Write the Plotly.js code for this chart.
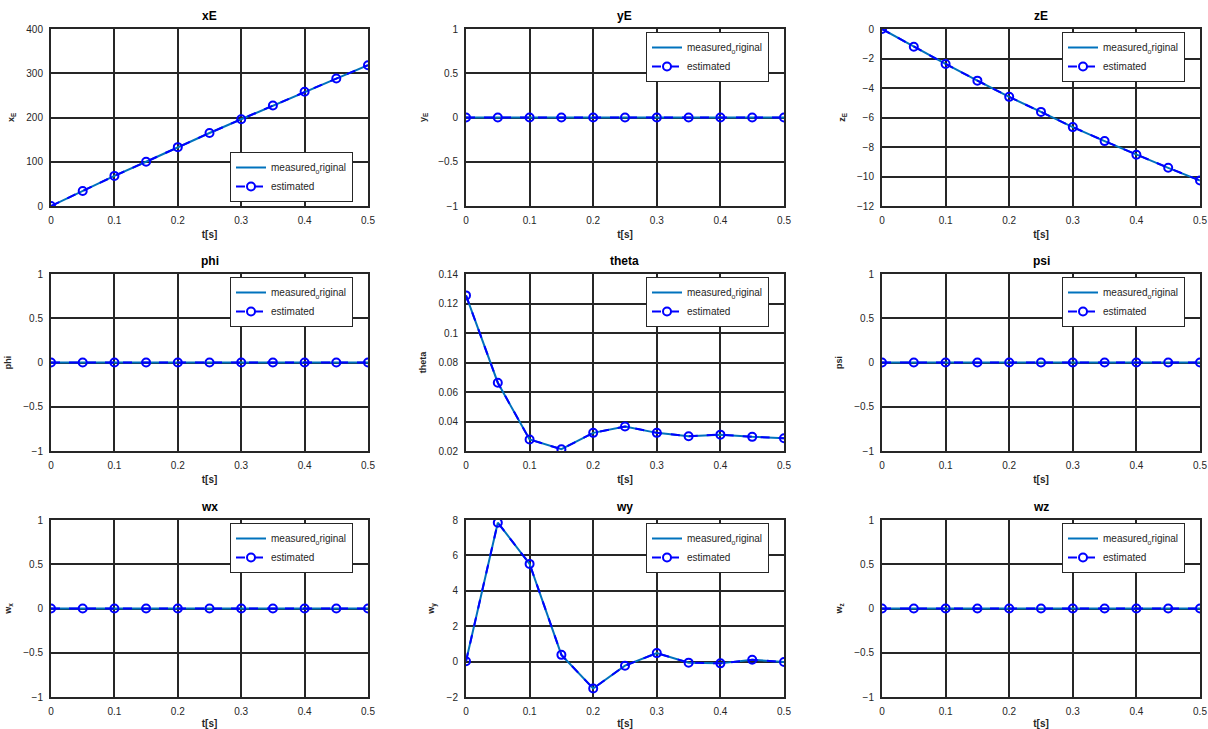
<!DOCTYPE html>
<html>
<head>
<meta charset="utf-8">
<script src="https://cdn.plot.ly/plotly-3.0.1.min.js"></script>
<style>html,body{margin:0;padding:0;background:#fff}#chart{width:1208px;height:729px}</style>
</head>
<body>
<div id="chart"></div>
<script>
// time axis (s)
const t = [0, 0.05, 0.1, 0.15, 0.2, 0.25, 0.3, 0.35, 0.4, 0.45, 0.5];

// panel names, y-axis labels
const panelTitles = ["xE", "yE", "zE", "phi", "theta", "psi", "wx", "wy", "wz"];
const yLabels = ["x<sub>E</sub>", "y<sub>E</sub>", "z<sub>E</sub>", "phi", "theta", "psi", "w<sub>x</sub>", "w<sub>y</sub>", "w<sub>z</sub>"];
const xLabel = "t[s]";
const legendNames = ["measured<sub>o</sub>riginal", "estimated"];

// measured (original) series
const xE_measured    = [0, 34, 68, 100, 133, 165, 196, 227, 258, 288, 318];
const yE_measured    = [0, 0, 0, 0, 0, 0, 0, 0, 0, 0, 0];
const zE_measured    = [0, -1.2, -2.37, -3.5, -4.6, -5.62, -6.65, -7.6, -8.53, -9.41, -10.27];
const phi_measured   = [0, 0, 0, 0, 0, 0, 0, 0, 0, 0, 0];
const theta_measured = [0.1255, 0.0663, 0.0278, 0.0212, 0.0323, 0.0366, 0.0323, 0.0300, 0.0311, 0.0296, 0.0287];
const psi_measured   = [0, 0, 0, 0, 0, 0, 0, 0, 0, 0, 0];
const wx_measured    = [0, 0, 0, 0, 0, 0, 0, 0, 0, 0, 0];
const wy_measured    = [0.02, 7.85, 5.52, 0.38, -1.52, -0.23, 0.48, -0.06, -0.1, 0.1, -0.02];
const wz_measured    = [0, 0, 0, 0, 0, 0, 0, 0, 0, 0, 0];

// estimated series
const xE_estimated    = [0, 34, 68, 100, 133, 165, 196, 227, 258, 288, 318];
const yE_estimated    = [0, 0, 0, 0, 0, 0, 0, 0, 0, 0, 0];
const zE_estimated    = [0, -1.2, -2.37, -3.5, -4.6, -5.62, -6.65, -7.6, -8.53, -9.41, -10.27];
const phi_estimated   = [0, 0, 0, 0, 0, 0, 0, 0, 0, 0, 0];
const theta_estimated = [0.1255, 0.0663, 0.0278, 0.0212, 0.0323, 0.0366, 0.0323, 0.0300, 0.0311, 0.0296, 0.0287];
const psi_estimated   = [0, 0, 0, 0, 0, 0, 0, 0, 0, 0, 0];
const wx_estimated    = [0, 0, 0, 0, 0, 0, 0, 0, 0, 0, 0];
const wy_estimated    = [0.02, 7.85, 5.52, 0.38, -1.52, -0.23, 0.48, -0.06, -0.1, 0.1, -0.02];
const wz_estimated    = [0, 0, 0, 0, 0, 0, 0, 0, 0, 0, 0];

// y-axis ranges and tick steps
const yRanges = [[0, 400], [-1, 1], [-12, 0], [-1, 1], [0.02, 0.14], [-1, 1], [-1, 1], [-2, 8], [-1, 1]];
const yDticks = [100, 0.5, 2, 0.5, 0.02, 0.5, 0.5, 2, 0.5];

const measured = [xE_measured, yE_measured, zE_measured, phi_measured, theta_measured, psi_measured, wx_measured, wy_measured, wz_measured];
const estimated = [xE_estimated, yE_estimated, zE_estimated, phi_estimated, theta_estimated, psi_estimated, wx_estimated, wy_estimated, wz_estimated];

// layout geometry (pixels)
const W = 1208, H = 729;
const colPx = [[51, 368], [466, 784], [882, 1200]];
const rowPx = [[29, 206], [274, 451], [520, 697]];

const FONT = "Liberation Sans, Arial, sans-serif";
const DARK = "#262626";

const data = [];
const layout = {
  width: W, height: H,
  margin: {l: 0, r: 0, t: 0, b: 0},
  paper_bgcolor: "#fff",
  plot_bgcolor: "#fff",
  font: {family: FONT, size: 10, color: DARK},
  showlegend: true,
  annotations: []
};

for (let i = 0; i < 9; i++) {
  const r = Math.floor(i / 3), c = i % 3;
  const n = i + 1;
  const xa = n === 1 ? "x" : "x" + n;
  const ya = n === 1 ? "y" : "y" + n;
  const lg = n === 1 ? "legend" : "legend" + n;
  const [x0, x1] = colPx[c];
  const [y0, y1] = rowPx[r];

  data.push({
    x: t, y: measured[i], xaxis: xa, yaxis: ya, legend: lg,
    type: "scatter", mode: "lines", name: legendNames[0],
    line: {color: "#0072BD", width: 2}
  });
  data.push({
    x: t, y: estimated[i], xaxis: xa, yaxis: ya, legend: lg,
    type: "scatter", mode: "lines+markers", name: legendNames[1],
    line: {color: "#0000FF", width: 2, dash: "dash"},
    marker: {symbol: "circle-open", size: 8, color: "#0000FF", line: {width: 2, color: "#0000FF"}}
  });

  const axCommon = {
    showline: true, mirror: true, linecolor: DARK, linewidth: 2,
    showgrid: true, gridcolor: DARK, gridwidth: 2,
    zeroline: false, ticks: "", automargin: false,
    tickfont: {family: FONT, size: 10, color: DARK}
  };
  layout["xaxis" + (n === 1 ? "" : n)] = Object.assign({}, axCommon, {
    domain: [x0 / W, x1 / W], anchor: ya,
    range: [0, 0.5], dtick: 0.1, tick0: 0, ticklabelstandoff: 4,
    title: {text: "<b>" + xLabel + "</b>", font: {family: FONT, size: 10, color: DARK}, standoff: 6}
  });
  layout["yaxis" + (n === 1 ? "" : n)] = Object.assign({}, axCommon, {
    domain: [1 - y1 / H, 1 - y0 / H], anchor: xa,
    range: yRanges[i], dtick: yDticks[i], tick0: yRanges[i][0], ticklabelstandoff: 4,
    title: {text: "<b>" + yLabels[i] + "</b>", font: {family: FONT, size: 9, color: DARK}, standoff: 10}
  });

  // legend placement
  const legendRight = x1 - 15;
  const leg = {
    xref: "paper", yref: "paper",
    x: legendRight / W, xanchor: "right",
    bgcolor: "#fff", bordercolor: DARK, borderwidth: 1,
    font: {family: FONT, size: 10, color: DARK},
    tracegroupgap: 0, itemwidth: 30
  };
  if (i === 0) { leg.y = 1 - 202 / H; leg.yanchor = "bottom"; }
  else { leg.y = 1 - (y0 + 3) / H; leg.yanchor = "top"; }
  layout[lg] = leg;

  // panel title
  layout.annotations.push({
    text: "<b>" + panelTitles[i] + "</b>",
    xref: "paper", yref: "paper",
    x: (x0 + x1) / 2 / W, y: 1 - (y0 - 4) / H,
    xanchor: "center", yanchor: "bottom", showarrow: false,
    font: {family: FONT, size: 12, color: "#000"}
  });
}

Plotly.newPlot("chart", data, layout, {staticPlot: true, displayModeBar: false});
</script>
</body>
</html>
